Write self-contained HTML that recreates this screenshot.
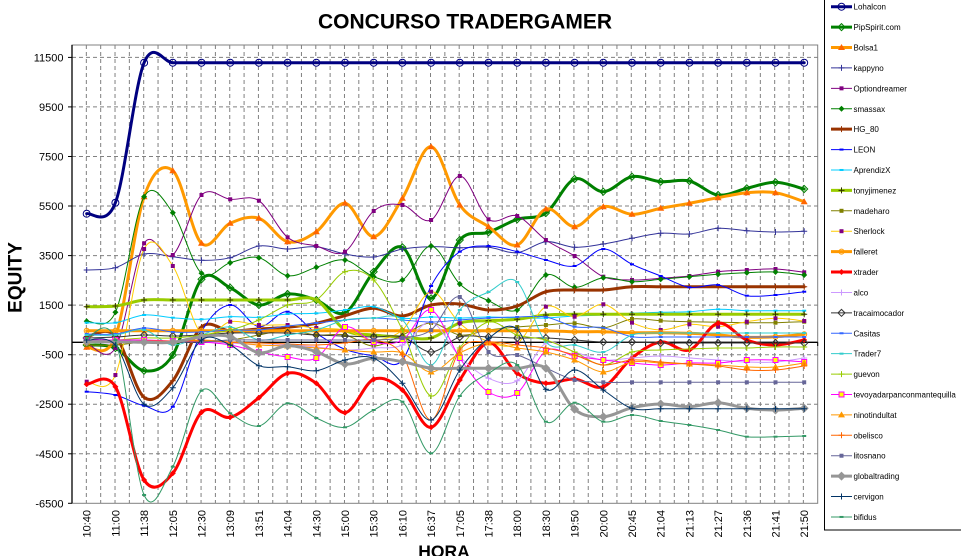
<!DOCTYPE html>
<html><head><meta charset="utf-8">
<style>
html,body{margin:0;padding:0;background:#fff;}
svg{display:block;font-family:"Liberation Sans",Arial,sans-serif;}
</style></head>
<body>
<svg id="c" width="961" height="556" viewBox="0 0 961 556" xmlns="http://www.w3.org/2000/svg">
<defs><clipPath id="pc"><rect x="72" y="45" width="745.7" height="458.3"/></clipPath></defs>
<rect x="0" y="0" width="961" height="556" fill="#fff"/>
<g id="grid"></g>
<rect x="72" y="45" width="745.7" height="458.3" fill="none" stroke="#808080" stroke-width="1"/>
<g id="axes"></g>
<g id="series" clip-path="url(#pc)"></g>
<g id="leg"></g>
<text x="465" y="28.3" font-size="21" font-weight="bold" text-anchor="middle">CONCURSO TRADERGAMER</text>
<text transform="translate(21.5,277.5) rotate(-90)" font-size="19" font-weight="bold" text-anchor="middle">EQUITY</text>
<text x="444" y="557.5" font-size="17.5" font-weight="bold" text-anchor="middle">HORA</text>
<g font-size="11" text-anchor="end" fill="#000">
<text x="63.5" y="61.5">11500</text>
<text x="63.5" y="111">9500</text>
<text x="63.5" y="160.5">7500</text>
<text x="63.5" y="210">5500</text>
<text x="63.5" y="259.6">3500</text>
<text x="63.5" y="309.1">1500</text>
<text x="63.5" y="358.7">-500</text>
<text x="63.5" y="408.2">-2500</text>
<text x="63.5" y="457.8">-4500</text>
<text x="63.5" y="507.3">-6500</text>
</g>
<g font-size="11" text-anchor="end" fill="#000">
<text transform="translate(90.7,510) rotate(-90)">10:40</text>
<text transform="translate(119.4,510) rotate(-90)">11:00</text>
<text transform="translate(148.1,510) rotate(-90)">11:38</text>
<text transform="translate(176.8,510) rotate(-90)">12:05</text>
<text transform="translate(205.5,510) rotate(-90)">12:30</text>
<text transform="translate(234.2,510) rotate(-90)">13:09</text>
<text transform="translate(262.9,510) rotate(-90)">13:51</text>
<text transform="translate(291.6,510) rotate(-90)">14:04</text>
<text transform="translate(320.3,510) rotate(-90)">14:30</text>
<text transform="translate(349.0,510) rotate(-90)">15:00</text>
<text transform="translate(377.7,510) rotate(-90)">15:30</text>
<text transform="translate(406.4,510) rotate(-90)">16:10</text>
<text transform="translate(435.1,510) rotate(-90)">16:37</text>
<text transform="translate(463.8,510) rotate(-90)">17:05</text>
<text transform="translate(492.5,510) rotate(-90)">17:38</text>
<text transform="translate(521.2,510) rotate(-90)">18:00</text>
<text transform="translate(549.9,510) rotate(-90)">18:30</text>
<text transform="translate(578.6,510) rotate(-90)">19:50</text>
<text transform="translate(607.3,510) rotate(-90)">20:00</text>
<text transform="translate(636.0,510) rotate(-90)">20:45</text>
<text transform="translate(664.7,510) rotate(-90)">21:04</text>
<text transform="translate(693.4,510) rotate(-90)">21:13</text>
<text transform="translate(722.1,510) rotate(-90)">21:27</text>
<text transform="translate(750.8,510) rotate(-90)">21:36</text>
<text transform="translate(779.5,510) rotate(-90)">21:41</text>
<text transform="translate(808.2,510) rotate(-90)">21:50</text>
</g>
<rect x="824.5" y="-2" width="140" height="532" fill="none" stroke="#000" stroke-width="1"/>
<g font-size="8" fill="#000">
<text x="853.5" y="9.7">Lohalcon</text>
<text x="853.5" y="30.1">PipSpirit.com</text>
<text x="853.5" y="50.5">Bolsa1</text>
<text x="853.5" y="70.9">kappyno</text>
<text x="853.5" y="91.3">Optiondreamer</text>
<text x="853.5" y="111.8">smassax</text>
<text x="853.5" y="132.2">HG_80</text>
<text x="853.5" y="152.6">LEON</text>
<text x="853.5" y="173.0">AprendizX</text>
<text x="853.5" y="193.4">tonyjimenez</text>
<text x="853.5" y="213.8">madeharo</text>
<text x="853.5" y="234.2">Sherlock</text>
<text x="853.5" y="254.6">falleret</text>
<text x="853.5" y="275.0">xtrader</text>
<text x="853.5" y="295.4">alco</text>
<text x="853.5" y="315.9">tracaimocador</text>
<text x="853.5" y="336.3">Casitas</text>
<text x="853.5" y="356.7">Trader7</text>
<text x="853.5" y="377.1">guevon</text>
<text x="853.5" y="397.5">tevoyadarpanconmantequilla</text>
<text x="853.5" y="417.9">ninotindultat</text>
<text x="853.5" y="438.3">obelisco</text>
<text x="853.5" y="458.7">litosnano</text>
<text x="853.5" y="479.1">globaltrading</text>
<text x="853.5" y="499.5">cervigon</text>
<text x="853.5" y="519.9">bifidus</text>
</g>
</svg>
<script>
(function(){
var NS="http://www.w3.org/2000/svg";
function el(tag,attrs,parent){var e=document.createElementNS(NS,tag);for(var k in attrs)e.setAttribute(k,attrs[k]);parent.appendChild(e);return e;}
var grid=document.getElementById('grid'),axes=document.getElementById('axes'),ser=document.getElementById('series'),leg=document.getElementById('leg');
var L=72,R=817.7,T=45,B=503.3;
// vertical gridlines
var step=(R-L)/52;
for(var k=1;k<52;k++){var x=L+step*k;el('line',{x1:x,y1:T,x2:x,y2:B,stroke:'#808080','stroke-width':1,'stroke-dasharray':'4,3'},grid);}
var hy=[57.4,106.9,156.5,206.0,255.6,305.1,354.7,404.2,453.8];
hy.forEach(function(y){el('line',{x1:L,y1:y,x2:R,y2:y,stroke:'#808080','stroke-width':1,'stroke-dasharray':'4,3'},grid);});
// axes
el('line',{x1:L,y1:T,x2:L,y2:B,stroke:'#000','stroke-width':1.3},axes);
el('line',{x1:L,y1:342.3,x2:R,y2:342.3,stroke:'#000','stroke-width':1.3},axes);
hy.concat([503.3]).forEach(function(y){el('line',{x1:L-4,y1:y,x2:L,y2:y,stroke:'#000','stroke-width':1},axes);});
for(var k=1;k<=26;k++){var x=L+step*2*k;el('line',{x1:x,y1:342.3,x2:x,y2:346,stroke:'#000','stroke-width':1},axes);}
function X(i){return 86.7+28.7*i;}
function rep(v,n){var a=[];for(var i=0;i<n;i++)a.push(v);return a;}
var S=[
{c:'#000080',w:3,m:'circle',mc:'#000080',y:[213.7,202.7].concat(rep(62.7,24))},
{c:'#008000',w:3,m:'odiamond',mc:'#008000',y:[345,348,370.7,355,279.3,287.7,305,294,300,312.7,271.7,247.3,298.3,240,232.3,219.3,213,179,191.7,176.7,181.7,181,195,188.3,182.3,189]},
{c:'#FF9900',w:3,m:'tri',mc:'#FF6600',y:[347.3,336.7,196.7,170.7,243.3,223.3,218.3,241.7,231.7,203.3,236.7,198.3,146.7,205,226.7,245,209,226.7,206.7,214.3,208.3,203.3,197.7,192.7,192.7,201.7]},
{c:'#333399',w:1,m:'plus',mc:'#333399',y:[270,267.7,254,256.7,260.3,257.7,246,249,246.7,254,257,249,246.7,247.7,247.3,252.7,241.7,247.3,244,238.3,233.3,234,228.3,230.7,232,231.3]},
{c:'#800080',w:1,m:'sq',mc:'#800080',y:[343,348,243.3,255,195,199.3,200.7,237.3,246,251.7,211,205,220,176,219.3,216,240,256,276.7,280,278.3,276,271.7,270,269,272.3]},
{c:'#008000',w:1,m:'diamond',mc:'#008000',y:[321.3,312.3,196.7,212.7,273.3,262.7,257.7,275.7,267.3,260,276.7,280,246,284,300.7,310,275,287.3,277.7,281.7,279.3,276.7,274.3,272.7,272,275]},
{c:'#993300',w:3,m:'plus',mc:'#993300',y:[336.7,335.7,397.3,380.7,327,331,329,327.3,323.3,315.7,308.3,316,305,304,310,306,291.7,290,290,286.7,286.7,286.7,286.7,286.7,286.7,286.7]},
{c:'#0000FF',w:1,m:'dash',mc:'#0000FF',y:[391.7,395,405.7,406.7,331.7,305,326.7,311.7,333.3,349.3,356,360,286,251.7,246,251.7,260,266,249,264.3,276,287.3,285,295.7,295,291.7]},
{c:'#00CCFF',w:1,m:'dash',mc:'#00CCFF',y:[322.7,322.7,315,317.7,319.3,316.7,317.3,314,313.3,310,306.7,318,317,318,317,318,318,316,315,313.3,312.3,311.7,309.3,310.7,310.7,310.7]},
{c:'#99CC00',w:3,m:'plus',mc:'#333300',y:[306.7,306,300,300,300,300,300,300,300,330,335,337,338,323,320.7,319.3,315].concat(rep(314.3,9))},
{c:'#808000',w:1,m:'sq',mc:'#808000',y:[345,345,342,342,341,340,335,330,335,335,346,335,323,335,330,327,325,323.3,328,319,320.7,321.7,322.3,322.7,322.7,321.7]},
{c:'#FFCC00',w:1,m:'sq',mc:'#800080',y:[381.7,375,249,266,334,321.7,325,325,328,330,340,330,291.7,323.3,341.7,343.3,306.7,316.7,304.3,322.7,330,324.3,326.7,321.7,318.3,321]},
{c:'#FF9900',w:3,m:'ocircle',mc:'#FF9900',y:rep(330.7,17).concat([331.7,331.7,332.7,332.7,333.3,335,337.3,336.7,334.3])},
{c:'#FF0000',w:3,m:'diamond',mc:'#FF0000',y:[384.3,386.7,480,473.3,412.3,417.3,397.7,373.3,383.3,412.7,379.3,390,427.3,380,342.7,373.3,383.3,379,386.7,358,342,350,323.3,340,345,340]},
{c:'#CC99FF',w:1,m:'plus',mc:'#CC99FF',y:[342,343,340,342,342,343,345,345,347,350,348,345,322,356.7,378.3,380.7,343.3,352,360,358,356,358,360,362,362,358]},
{c:'#333333',w:1,m:'odiamond',mc:'#333333',y:[338,337,335,336,335,333,333,333,335,336,337,337,352,337,337,338,338,340,342,342,343,343,343,343,343,343]},
{c:'#3366FF',w:1,m:'dash',mc:'#3366FF',y:[334,334,328,332,332,330,330,326,323,320,318,320,322,320,318,317,317,326.7,327.7,336.7,337,337,337,337,337,337]},
{c:'#33CCCC',w:1,m:'dash',mc:'#33CCCC',y:[335,335,330,345,335,327,340,335,330,320,318,320,365,310,292,282,342,345,352,335,333,333,333,333,333,333]},
{c:'#99CC00',w:1,m:'plus',mc:'#99CC00',y:[340,340,338,338,335,330,320,305,300,271.7,280,330,396,348,322,335,340,352,365,352,350,349,348,348,347,347]},
{c:'#FF00FF',w:1,m:'osq',mc:'#FF00FF',y:[340,340,340,341,342,345,352,357,358,327,342,340,310,358,392,393,351,356,360,363,365,363,363,360,360,362]},
{c:'#FF9900',w:1,m:'tri',mc:'#FF9900',y:[342,342,341,341,340,342,345,346,348,350,352,353,372,353,343,348,352,360,372,362,363,364,365,367,367,363]},
{c:'#FF6600',w:1,m:'plus',mc:'#FF6600',y:[342,342,341,341,341,342,343,344,345,343,340,355,420,350,342,345,348,355,365,360,362,364,366,370,370,366]},
{c:'#666699',w:1,m:'sq',mc:'#666699',y:[342,342,342,342,342,340,340,340,340,340,340,338,330,297,352,355,368,380].concat(rep(382.3,8))},
{c:'#969696',w:3,m:'bigdiamond',mc:'#969696',y:[341.7,341.7,342.3,342.3,336.7,336.7,352.7,345.7,351.7,364,358.3,361.7,368.3,368.3,368.3,368.3,368.3,409.3,416.7,407.7,404,406.7,402.7,408.3,410,408.3]},
{c:'#003366',w:1,m:'plus',mc:'#003366',y:[340,345,404.3,387.7,340,345,365.7,366.7,370.7,360,358.3,383.3,420,370,338.3,329.3,389.3,370,390,408.3,408.7,408.7,408.7,408.7,408.7,408.7]},
{c:'#339966',w:1,m:'dash',mc:'#339966',y:[338,340,495,466.7,390.7,413.3,426,403.3,418,427.3,410,401.7,453.3,396,373.3,365,421.7,402.7,421.7,415,421,425,430,436.7,436.7,436]}
];
function pathD(ys){
  var n=ys.length,d='M'+X(0).toFixed(1)+','+ys[0];
  for(var i=0;i<n-1;i++){
    var p0x=i>0?X(i-1):X(i),p0y=i>0?ys[i-1]:ys[i];
    var p1x=X(i),p1y=ys[i],p2x=X(i+1),p2y=ys[i+1];
    var p3x=i+2<n?X(i+2):p2x,p3y=i+2<n?ys[i+2]:p2y;
    var c1x=p1x+(p2x-p0x)/6,c1y=p1y+(p2y-p0y)/6;
    var c2x=p2x-(p3x-p1x)/6,c2y=p2y-(p3y-p1y)/6;
    d+=' C'+c1x.toFixed(2)+','+c1y.toFixed(2)+' '+c2x.toFixed(2)+','+c2y.toFixed(2)+' '+p2x.toFixed(2)+','+p2y.toFixed(2);
  }
  return d;
}
function marker(t,x,y,c,g){
  switch(t){
    case 'circle':el('circle',{cx:x,cy:y,r:3.5,fill:'none',stroke:c,'stroke-width':1},g);break;
    case 'ocircle':el('circle',{cx:x,cy:y,r:2.5,fill:'none',stroke:c,'stroke-width':1},g);break;
    case 'odiamond':el('polygon',{points:(x)+','+(y-3.5)+' '+(x+3.5)+','+y+' '+x+','+(y+3.5)+' '+(x-3.5)+','+y,fill:'none',stroke:c,'stroke-width':1},g);break;
    case 'diamond':el('polygon',{points:(x)+','+(y-3)+' '+(x+3)+','+y+' '+x+','+(y+3)+' '+(x-3)+','+y,fill:c},g);break;
    case 'bigdiamond':el('polygon',{points:(x)+','+(y-4.5)+' '+(x+4.5)+','+y+' '+x+','+(y+4.5)+' '+(x-4.5)+','+y,fill:c},g);break;
    case 'tri':el('polygon',{points:(x)+','+(y-3.5)+' '+(x+3.5)+','+(y+2.5)+' '+(x-3.5)+','+(y+2.5),fill:c},g);break;
    case 'sq':el('rect',{x:x-2,y:y-2,width:4,height:4,fill:c},g);break;
    case 'osq':el('rect',{x:x-2.5,y:y-2.5,width:5,height:5,fill:'#FFFF00',stroke:c,'stroke-width':1},g);break;
    case 'plus':el('path',{d:'M'+(x-3)+','+y+'H'+(x+3)+'M'+x+','+(y-3)+'V'+(y+3),stroke:c,'stroke-width':1,fill:'none'},g);break;
    case 'dash':el('rect',{x:x-2,y:y-1,width:4,height:2,fill:c},g);break;
  }
}
S.forEach(function(s,idx){
  var g=el('g',{},ser);
  el('path',{d:pathD(s.y),fill:'none',stroke:s.c,'stroke-width':s.w,'stroke-linejoin':'round','stroke-linecap':'round'},g);
  for(var i=0;i<s.y.length;i++)marker(s.m,X(i),s.y[i],s.mc,g);
  var yc=6.7+20.41*idx;
  el('line',{x1:831,y1:yc,x2:852,y2:yc,stroke:s.c,'stroke-width':s.w},leg);
  marker(s.m,841.5,yc,s.mc,leg);
});
})();
</script>
</body></html>
